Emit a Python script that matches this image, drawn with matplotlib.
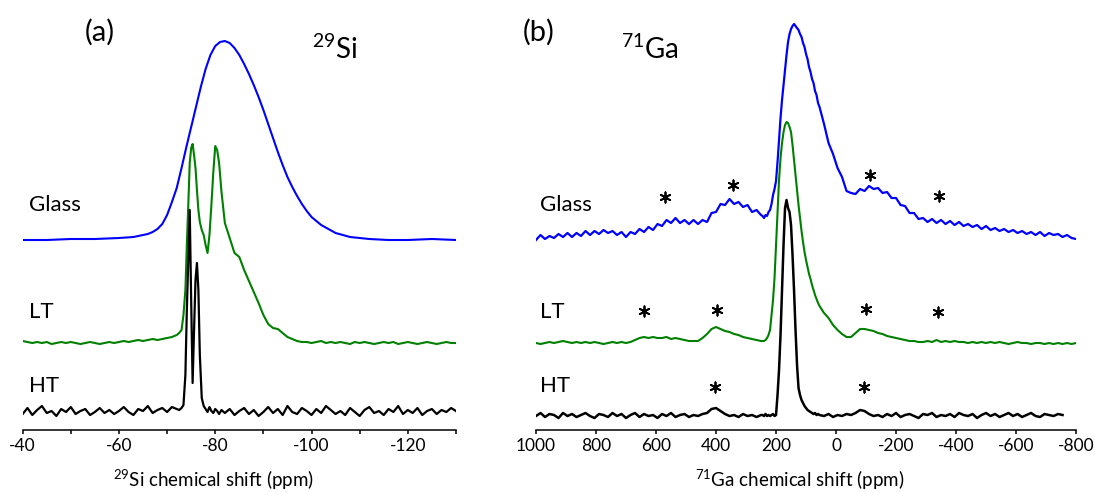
import matplotlib
matplotlib.use('Agg')
import matplotlib.pyplot as plt

plt.rcParams['font.family'] = 'Lato'
plt.rcParams['axes.unicode_minus'] = False

# ---------------- (a) 29Si ----------------
si_ppm = [-40, -41, -42, -43, -44, -45, -46, -47, -48, -49, -50, -51, -52, -53, -54, -55, -56,
          -57, -58, -59, -60, -61, -62, -63, -64, -65, -66, -67, -68, -69, -70, -71, -72,
          -72.5, -73, -73.4, -73.8, -74.1, -74.4, -74.7, -75.0, -75.3, -75.6, -75.9, -76.2,
          -76.5, -76.8, -77.2, -77.6, -78.0, -78.4, -78.8, -79.2, -79.6, -80.0, -80.4, -80.8, -81.3,
          -82, -83, -84, -85, -86, -87, -88, -89, -90, -91, -92, -93, -94, -95, -96, -97, -98,
          -99, -100, -101, -102, -103, -104, -105, -106, -107, -108, -109, -110, -111, -112,
          -113, -114, -115, -116, -117, -118, -119, -120, -121, -122, -123, -124, -125, -126,
          -127, -128, -129, -130]

si_ht = [16, 22, 15, 20, 24, 17, 19, 14, 21, 18, 23, 16, 19, 21, 15, 18, 22, 17, 20, 16, 19,
         23, 18, 15, 21, 19, 24, 17, 20, 22, 18, 23, 21,
         20, 22, 25, 55, 120, 170, 220, 130, 47, 100, 150, 167, 140, 75, 32, 24, 21, 18, 23,
         19, 17, 21, 19, 16, 20,
         17, 21, 15, 19, 22, 16, 20, 14, 18, 23, 17, 21, 15, 24, 18, 16, 22, 19, 15, 21, 17,
         24, 20, 16, 19, 15, 22, 18, 14, 20, 23, 17, 19, 15, 21, 18, 24, 16, 20, 17, 22, 15,
         19, 21, 16, 20, 18, 22, 19]

si_lt = [89, 88, 87, 88, 87, 88, 86, 87, 88, 87, 88, 87, 86, 87, 88, 87, 86, 87, 88, 87, 88,
         89, 88, 89, 90, 89, 90, 91, 90, 91, 92, 93, 95,
         97, 100, 115, 140, 185, 225, 267, 282, 286, 275, 262, 240, 220, 208, 200, 195, 185,
         177, 195, 225, 258, 284, 280, 267, 238,
         207, 192, 177, 173, 160, 149, 138, 127, 115, 106, 102, 101, 97, 93, 91, 89, 88,
         88, 87, 88, 89, 87, 88, 87, 88, 87, 86, 88, 87, 88, 87, 86, 87, 88, 87, 88, 86, 87,
         88, 87, 86, 87, 88, 87, 86, 87, 88, 87, 87]

si_glass_ppm = [-40, -45, -50, -55, -60, -63, -66, -67, -68, -69, -70, -71, -72, -73, -74, -75,
                -76, -77, -78, -79, -80, -81, -82, -83, -84, -85, -86, -87, -88, -89, -90, -91,
                -92, -93, -94, -95, -96, -97, -98, -99, -100, -102, -105, -108, -112, -116,
                -120, -125, -130]
si_glass = [190, 190, 191, 191, 192, 193, 196, 198, 201, 206, 215, 228, 242, 262, 283, 303,
            323, 343, 361, 375, 384, 388, 389, 387, 382, 375, 366, 356, 345, 333, 320, 306,
            292, 278, 265, 253, 243, 234, 226, 219, 213, 205, 197, 193, 191, 190, 190, 191, 190]

# ---------------- (b) 71Ga ----------------
ga_ppm = [1000, 985, 970, 955, 940, 925, 910, 895, 880, 865, 850, 835, 820, 805, 790, 775, 760,
          745, 730, 715, 700, 685, 670, 655, 640, 625, 610, 595, 580, 565, 550, 535, 520, 505,
          490, 475, 460, 445, 430, 415, 400, 385, 370, 355, 340, 325, 310, 295, 280, 265, 250,
          245, 240, 235, 230, 225, 220, 215, 210, 205, 200, 195, 190, 185, 180, 175, 170, 165,
          160, 155, 150, 145, 140, 135, 130, 125, 120, 115, 110, 105, 100, 95, 90, 85, 80, 75,
          70, 65, 60, 55,
          40, 25, 10, -5, -20, -35, -50, -65, -80, -95, -110, -125, -140, -155, -170, -185,
          -200, -215, -230, -245, -260, -275, -290, -305, -320, -335, -350, -365, -380, -395,
          -410, -425, -440, -455, -470, -485, -500, -515, -530, -545, -560, -575, -590, -605,
          -620, -635, -650, -665, -680, -695, -710, -725, -740, -755, -770, -785, -800]

ga_glass = [190, 195, 191, 194, 192, 196, 193, 197, 193, 197, 194, 199, 195, 199, 196, 200,
            197, 199, 195, 198, 193, 198, 196, 201, 198, 203, 200, 206, 204, 210, 207, 212,
            207, 210, 206, 210, 206, 210, 208, 217, 218, 226, 225, 231, 226, 228, 223, 225,
            218, 220, 215,
            214, 212, 215, 214, 218, 220, 226, 235, 241, 249, 268, 290, 312, 330, 345, 360,
            375, 388, 396, 401, 404, 406, 404, 402, 400, 396, 393, 387, 383, 376, 371, 363,
            358, 351, 347, 339, 335, 327, 323,
            306, 287, 276, 262, 253, 239, 237, 236, 241, 239, 244, 241, 242, 237, 238, 232,
            232, 225, 224, 217, 217, 211, 212, 208, 211, 207, 210, 206, 209, 205, 208, 204,
            206, 203, 205, 201, 204, 200, 202, 199, 201, 198, 200, 197, 199, 196, 198, 195,
            198, 194, 197, 195, 196, 193, 195, 192, 191]

ga_lt = [87, 86, 87, 88, 87, 88, 89, 88, 87, 88, 87, 88, 87, 88, 87, 86, 87, 88, 87, 88, 87,
         88, 90, 92, 93, 92, 93, 92, 92, 93, 91, 92, 91, 90, 89, 89, 89, 92, 96, 101, 103, 101,
         99, 98, 96, 95, 93, 92, 91, 90, 89,
         89, 89, 90, 92, 95, 100, 115, 130, 152, 185, 220, 250, 272, 287, 298, 305, 308, 307,
         303, 298, 285, 270, 256, 240, 225, 212, 199, 188, 178, 170, 163, 156, 151, 145, 140,
         135, 131, 127, 124,
         117, 112, 105, 100, 96, 93, 93, 97, 101, 101, 100, 99, 97, 96, 94, 93, 92, 91, 90,
         89, 89, 88, 88, 89, 88, 90, 88, 89, 88, 89, 88, 88, 87, 88, 87, 88, 87, 88, 87, 88,
         87, 86, 87, 88, 87, 87, 86, 87, 87, 86, 87, 86, 87, 86, 87, 86, 87]

ga_ht = [14, 17, 13, 16, 15, 12, 17, 14, 16, 13, 15, 17, 14, 12, 16, 15, 13, 17, 14, 16, 12,
         15, 17, 13, 16, 14, 15, 12, 16, 14, 17, 13, 15, 16, 13, 15, 14, 16, 17, 21, 22, 19,
         16, 14, 15, 13, 16, 14, 15, 13, 15,
         15, 14, 16, 14, 15, 14, 15, 16, 14, 15, 35, 60, 95, 140, 185, 222, 230, 222, 218,
         205, 175, 140, 100, 65, 42, 35, 30, 27, 24, 22, 20, 19, 18, 17, 16, 17, 15, 16, 15,
         14, 16, 13, 15, 14, 16, 15, 17, 20, 19, 16, 14, 15, 13, 16, 14, 17, 13, 15, 16, 14,
         12, 16, 15, 17, 13, 15, 14, 16, 13, 17, 15, 14, 16, 12, 15, 17, 14, 16, 13, 15, 17,
         14, 16, 13, 15, 17, 14, 13, 16, 15, 14, 16, 15]

# spinning sidebands (ppm, height)
ga_star_x = [570, 342, -113, -343, 639, 398, -100, -341, 403, -93]
ga_star_y = [233, 245, 255, 234, 119, 120, 121, 118, 43, 43]

sample_names = ['Glass', 'LT', 'HT']
name_y = [225, 118, 44]

BLUE = '#0000ff'
GREEN = '#008000'

fig = plt.figure(figsize=(10.95, 4.92), dpi=100)
ax_a = fig.add_axes([0.0207, 0.126, 0.3957, 0.874])
ax_b = fig.add_axes([0.4895, 0.126, 0.4932, 0.874])

ax_a.plot(si_glass_ppm, si_glass, color=BLUE, lw=1.5)
ax_a.plot(si_ppm, si_lt, color=GREEN, lw=1.5)
ax_a.plot(si_ppm, si_ht, color='black', lw=1.6)

ax_b.plot(ga_ppm, ga_glass, color=BLUE, lw=1.6)
ax_b.plot(ga_ppm, ga_lt, color=GREEN, lw=1.5)
ax_b.plot(ga_ppm[:len(ga_ht)], ga_ht, color='black', lw=1.8)

for ax in (ax_a, ax_b):
    ax.set_ylim(0, 430)
    for s in ('left', 'right', 'top'):
        ax.spines[s].set_visible(False)
    ax.spines['bottom'].set_linewidth(1.1)
    ax.set_yticks([])
    ax.tick_params(axis='x', which='both', direction='out', length=2.8, width=1.1,
                   labelsize=12.5, pad=3)
    ax.patch.set_alpha(0)

ax_a.set_xlim(-40, -130)
ax_a.set_xticks([-40, -60, -80, -100, -120])
ax_a.set_xticks([-50, -70, -90, -110, -130], minor=True)
ax_b.set_xlim(1000, -800)
ax_b.set_xticks([1000, 800, 600, 400, 200, 0, -200, -400, -600, -800])

ax_a.set_xlabel(r'$^{\mathregular{29}}$Si chemical shift (ppm)', fontsize=13.5)
ax_a.xaxis.set_label_coords(0.44, -0.086)
ax_b.set_xlabel(r'$^{\mathregular{71}}$Ga chemical shift (ppm)', fontsize=13.5)
ax_b.xaxis.set_label_coords(0.489, -0.086)

for name, y in zip(sample_names, name_y):
    ax_a.text(-41.3, y, name, fontsize=16, ha='left', va='center')
    ax_b.text(987, y, name, fontsize=16, ha='left', va='center')

ax_a.text(-56, 398, '(a)', fontsize=21, ha='center', va='center')
ax_a.text(-104.9, 381, r'$^{\mathregular{29}}$Si', fontsize=20, ha='center', va='center')
ax_b.text(990, 398, '(b)', fontsize=21, ha='center', va='center')
ax_b.text(620, 381, r'$^{\mathregular{71}}$Ga', fontsize=20, ha='center', va='center')

ax_b.scatter(ga_star_x, ga_star_y, marker=(6, 2, 0), s=55, color='black', linewidths=1.3)

fig.savefig('out.png', dpi=100)
